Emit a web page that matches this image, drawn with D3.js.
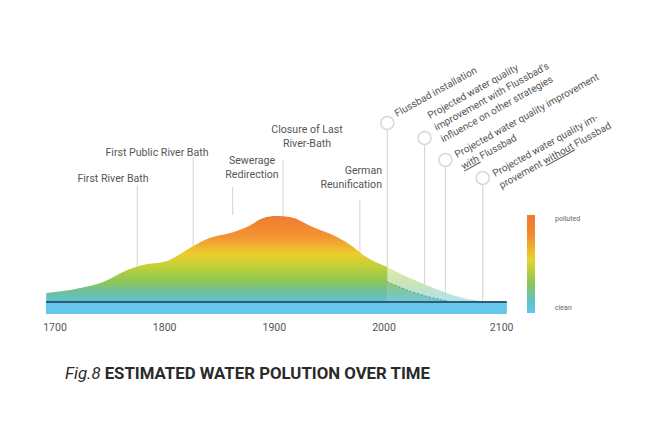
<!DOCTYPE html>
<html>
<head>
<meta charset="utf-8">
<script src="https://cdn.jsdelivr.net/npm/d3@7"></script>
<style>
  body { margin: 0; background: #fff; }
  svg { display: block; font-family: Roboto, "DejaVu Sans", sans-serif; }
</style>
</head>
<body>
<div id="chart"></div>
<script>
// pollution estimate (0 = clean, 100 = max)
const years = [1692, 1723, 1744, 1766, 1780, 1802, 1808, 1823, 1841, 1860, 1875, 1890, 1902, 1914, 1935, 1957, 1972, 1981, 2003];
const pollution = [8.4, 13.7, 20, 32.6, 37.9, 42.1, 45.3, 55.8, 66.3, 71.6, 77.9, 87.4, 89.5, 88.4, 77.9, 67.4, 56.8, 48.4, 35.8];

// projections after 2003
const withYears = [2003, 2030, 2058];
const withValues = [20, 8, 0];
const withoutYears = [2003, 2018, 2033, 2048, 2063, 2076, 2088];
const withoutValues = [35.8, 27, 19.5, 12.5, 6, 2, 0];

const tickYears = [1700, 1800, 1900, 2000, 2100];

// history annotations
const events = ["First River Bath", "First Public River Bath", "Sewerage\nRedirection", "Closure of Last\nRiver-Bath", "German\nReunification"];
const eventYears = [1775, 1826, 1862, 1908, 1978];

// projection annotations
const projLabels = [
  "Flussbad installation",
  "Projected water quality\nimprovement with Flussbad's\ninfluence on other strategies",
  "Projected water quality improvement\n_with_ Flussbad",
  "Projected water quality im-\nprovement _without_ Flussbad"
];
const projYears = [2003, 2037, 2056, 2090];

const width = 660, height = 440;
const baseY = 301;

const svg = d3.select("#chart").append("svg")
  .attr("width", width).attr("height", height);

const x = d3.scaleLinear().domain([1700, 2000]).range([55, 384]);
const y = d3.scaleLinear().domain([0, 100]).range([baseY, 206]);

const defs = svg.append("defs");
const stops = [
  [0, "#f07a32"], [0.25, "#f39432"], [0.45, "#eacf2b"], [0.62, "#b9d03a"],
  [0.77, "#8dc556"], [0.9, "#6cbfa0"], [1, "#60c3d0"]
];
const grad = defs.append("linearGradient").attr("id", "g")
  .attr("gradientUnits", "userSpaceOnUse")
  .attr("x1", 0).attr("x2", 0).attr("y1", 216).attr("y2", baseY);
grad.selectAll("stop").data(stops).join("stop")
  .attr("offset", d => d[0]).attr("stop-color", d => d[1]);

const legendStops = [
  [0, "#f07a32"], [0.2, "#f28a30"], [0.45, "#e8d42c"], [0.7, "#8dc556"],
  [0.88, "#62c1c8"], [1, "#5fc6ee"]
];
const lgrad = defs.append("linearGradient").attr("id", "lg")
  .attr("x1", 0).attr("x2", 0).attr("y1", 0).attr("y2", 1);
lgrad.selectAll("stop").data(legendStops).join("stop")
  .attr("offset", d => d[0]).attr("stop-color", d => d[1]);

// history annotation lines + labels
const lineTop = [185, 157, 187, 160, 200];
const lineBottom = [baseY, baseY, 215, baseY, baseY];
const labelX = [113, 157, 252, 307, 382];
const labelY = [182, 156, 164, 133, 174];
const anchors = ["middle", "middle", "middle", "middle", "end"];

svg.append("g").selectAll("line").data(eventYears).join("line")
  .attr("x1", d => x(d)).attr("x2", d => x(d))
  .attr("y1", (d, i) => lineTop[i]).attr("y2", (d, i) => lineBottom[i])
  .attr("stroke", "#d4d4d4").attr("stroke-width", 1);

const evText = svg.append("g").selectAll("text").data(events).join("text")
  .attr("x", (d, i) => labelX[i]).attr("y", (d, i) => labelY[i])
  .attr("text-anchor", (d, i) => anchors[i])
  .attr("font-size", 10.6).attr("fill", "#555");
evText.each(function (d, i) {
  d.split("\n").forEach((t, j) => {
    d3.select(this).append("tspan").attr("x", labelX[i]).attr("dy", j ? 14 : 0).text(t);
  });
});

// projection annotation lines + circles
const circleY = [123, 138, 160, 178];
svg.append("g").selectAll("line").data(projYears).join("line")
  .attr("x1", d => x(d)).attr("x2", d => x(d))
  .attr("y1", (d, i) => circleY[i] + 7).attr("y2", baseY)
  .attr("stroke", "#d8d8d8").attr("stroke-width", 1.2);
svg.append("g").selectAll("circle").data(projYears).join("circle")
  .attr("cx", d => x(d)).attr("cy", (d, i) => circleY[i]).attr("r", 6.5)
  .attr("fill", "#fff").attr("stroke", "#d8d8d8").attr("stroke-width", 1.5);

const projPos = [[397, 117], [430, 119], [457, 158], [495, 177]];
projLabels.forEach((lab, i) => {
  const t = svg.append("text")
    .attr("transform", `translate(${projPos[i][0]},${projPos[i][1]}) rotate(-29)`)
    .attr("font-size", 10).attr("fill", "#555");
  lab.split("\n").forEach((line, j) => {
    const ts = t.append("tspan").attr("x", 0).attr("y", j * 13.5);
    line.split("_").forEach((part, k) => {
      if (!part) return;
      const p = ts.append("tspan").text(part);
      if (k % 2 === 1) p.attr("text-decoration", "underline");
    });
  });
});

// areas
const area = (xs, vs) => d3.area()
  .x((d, i) => x(xs[i])).y0(y(0)).y1(d => y(d))
  .curve(d3.curveMonotoneX)(vs);

// projection without Flussbad: pale
svg.append("path").attr("d", area(withoutYears, withoutValues)).attr("fill", "#fff");
svg.append("path").attr("d", area(withoutYears, withoutValues))
  .attr("fill", "url(#g)").attr("opacity", 0.45);

// projection with Flussbad
svg.append("path").attr("d", area(withYears, withValues))
  .attr("fill", "url(#g)").attr("opacity", 0.8);
svg.append("path")
  .attr("d", d3.line().x((d, i) => x(withYears[i])).y(d => y(d)).curve(d3.curveMonotoneX)(withValues))
  .attr("fill", "none").attr("stroke", "#3f8f86").attr("stroke-width", 1)
  .attr("stroke-dasharray", "2,2").attr("opacity", 0.8);

// main history area
svg.append("path").attr("d", area(years, pollution)).attr("fill", "url(#g)");

// river band
const bandStart = 1691.8, bandEnd = 2112;
svg.append("rect")
  .attr("x", x(bandStart)).attr("width", x(bandEnd) - x(bandStart))
  .attr("y", baseY + 1).attr("height", 12).attr("fill", "#66c7ec");
svg.append("line")
  .attr("x1", x(bandStart)).attr("x2", x(bandEnd))
  .attr("y1", baseY + 1).attr("y2", baseY + 1)
  .attr("stroke", "#2f5d74").attr("stroke-width", 2);

// x axis labels
svg.append("g").selectAll("text").data(tickYears).join("text")
  .attr("x", d => x(d) + (d === 2100 ? 8 : 0)).attr("y", 331)
  .attr("text-anchor", "middle").attr("font-size", 10.5).attr("fill", "#555")
  .text(d => d);

// legend
svg.append("rect").attr("x", 527).attr("y", 215).attr("width", 8).attr("height", 98)
  .attr("fill", "url(#lg)");
svg.append("text").attr("x", 555).attr("y", 221).attr("font-size", 7).attr("fill", "#666").text("polluted");
svg.append("text").attr("x", 555).attr("y", 310).attr("font-size", 7).attr("fill", "#666").text("clean");

// title
const title = svg.append("text").attr("x", 65).attr("y", 379)
  .attr("font-size", 16.8).attr("fill", "#2a2a2a");
title.append("tspan").attr("font-style", "italic").text("Fig.8 ");
title.append("tspan").attr("font-weight", "bold").text("ESTIMATED WATER POLUTION OVER TIME");
</script>
</body>
</html>
